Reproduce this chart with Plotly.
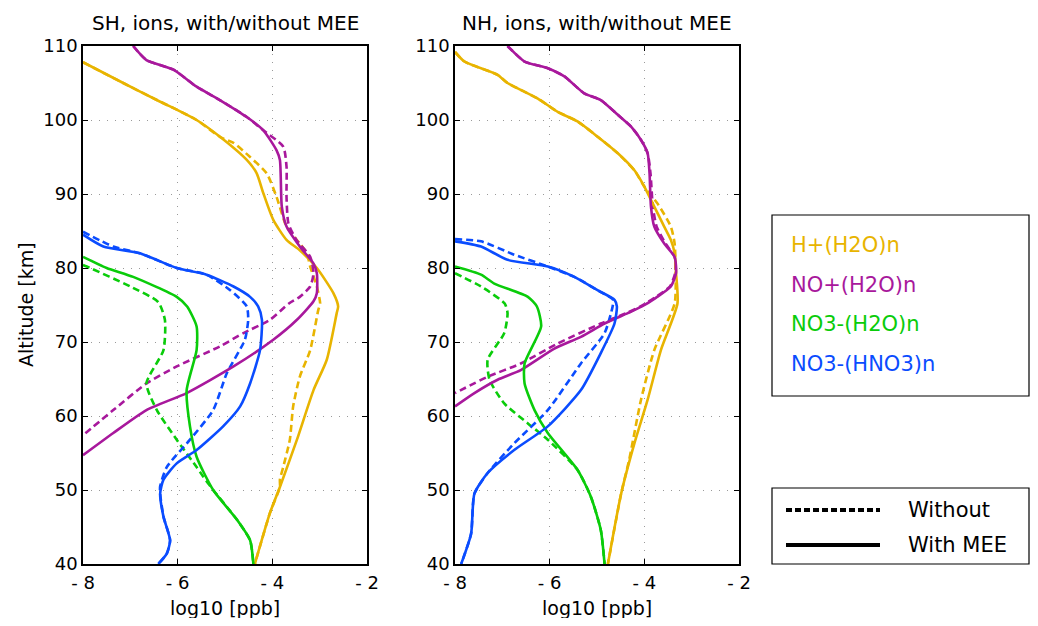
import plotly.graph_objects as go

# ---------------- data (log10 ppb vs altitude km) ----------------
# Southern Hemisphere
sh_hp_with_alt = [107.8, 105.0, 102.7, 101.4, 100.0, 97.7, 94.6, 92.8, 90.1, 86.5, 83.8, 82.4, 80.0, 76.6, 74.8, 73.9, 67.6, 63.5, 56.8, 50.4, 46.9, 40.0]
sh_hp_with_val = [-8.0, -7.15, -6.44, -6.02, -5.6, -5.1, -4.54, -4.33, -4.19, -3.98, -3.70, -3.42, -3.06, -2.71, -2.61, -2.64, -2.85, -3.13, -3.48, -3.84, -4.05, -4.37]
sh_hp_wo_alt = [107.8, 105.0, 102.7, 101.4, 100.0, 97.7, 96.9, 95.0, 92.8, 89.6, 85.6, 83.3, 82.0, 80.2, 77.5, 75.2, 74.3, 68.9, 65.3, 61.3, 56.8, 53.1, 51.4, 50.4, 46.9, 40.0]
sh_hp_wo_val = [-8.0, -7.15, -6.44, -6.02, -5.6, -5.1, -4.82, -4.47, -4.12, -3.91, -3.70, -3.42, -3.27, -3.20, -3.06, -2.99, -3.03, -3.20, -3.42, -3.56, -3.63, -3.77, -3.84, -3.84, -4.05, -4.37]

sh_nop_with_alt = [110.0, 108.1, 106.8, 104.5, 102.7, 100.4, 98.6, 95.9, 94.6, 88.3, 85.6, 82.9, 80.6, 79.3, 76.6, 75.5, 73.0, 70.3, 66.7, 63.1, 60.8, 57.7, 54.7]
sh_nop_with_val = [-6.94, -6.66, -6.09, -5.60, -5.11, -4.54, -4.19, -3.91, -3.84, -3.80, -3.70, -3.42, -3.13, -3.06, -3.06, -3.13, -3.48, -3.98, -4.82, -5.81, -6.66, -7.36, -8.0]
sh_nop_wo_alt = [110.0, 108.1, 106.8, 104.5, 102.7, 100.4, 98.6, 96.4, 93.7, 89.6, 86.0, 83.8, 81.5, 79.3, 77.5, 76.1, 75.2, 73.0, 71.2, 69.4, 66.7, 64.4, 60.8, 57.4]
sh_nop_wo_val = [-6.94, -6.66, -6.09, -5.60, -5.11, -4.54, -4.19, -3.77, -3.70, -3.70, -3.66, -3.49, -3.20, -3.13, -3.20, -3.42, -3.65, -4.05, -4.61, -5.11, -6.02, -6.66, -7.36, -8.0]

sh_no3w_with_alt = [81.5, 80.0, 78.8, 76.1, 74.8, 72.1, 68.9, 63.5, 58.6, 54.5, 50.0, 46.0, 43.2, 40.0]
sh_no3w_with_val = [-8.0, -7.5, -6.94, -6.02, -5.80, -5.60, -5.60, -5.81, -5.74, -5.60, -5.25, -4.75, -4.47, -4.40]
sh_no3w_wo_alt = [80.4, 80.2, 77.5, 75.4, 73.0, 68.9, 64.4, 60.8, 56.8, 53.1, 51.8, 50.0, 46.0, 43.2, 40.0]
sh_no3w_wo_val = [-8.0, -7.92, -7.0, -6.41, -6.27, -6.30, -6.66, -6.44, -6.02, -5.60, -5.46, -5.25, -4.75, -4.47, -4.40]

sh_no3h_with_alt = [84.5, 82.9, 82.0, 80.0, 79.1, 77.5, 76.1, 74.8, 73.0, 68.9, 64.4, 61.3, 58.6, 55.4, 53.6, 51.4, 49.5, 46.4, 43.2, 41.4, 40.0]
sh_no3h_with_val = [-8.0, -7.57, -6.80, -6.02, -5.39, -4.82, -4.47, -4.30, -4.22, -4.26, -4.47, -4.68, -5.04, -5.60, -6.02, -6.30, -6.37, -6.30, -6.16, -6.23, -6.41]
sh_no3h_wo_alt = [84.9, 82.9, 82.0, 80.0, 79.1, 77.0, 74.8, 73.0, 70.3, 65.8, 60.8, 56.8, 53.1, 50.5, 49.5, 46.4, 43.2, 41.4, 40.0]
sh_no3h_wo_val = [-8.0, -7.36, -6.80, -6.02, -5.39, -4.89, -4.54, -4.51, -4.58, -4.96, -5.25, -5.74, -6.23, -6.37, -6.37, -6.30, -6.16, -6.23, -6.41]

# Northern Hemisphere
nh_hp_with_alt = [109.2, 107.9, 106.1, 105.0, 102.9, 101.1, 99.8, 97.7, 95.5, 93.2, 91.0, 88.3, 85.6, 83.8, 82.0, 79.3, 75.2, 68.9, 62.2, 56.3, 49.5, 40.0]
nh_hp_with_val = [-8.0, -7.80, -7.10, -6.89, -6.25, -5.83, -5.41, -4.98, -4.56, -4.21, -4.0, -3.79, -3.58, -3.44, -3.36, -3.33, -3.30, -3.65, -3.93, -4.21, -4.49, -4.77]
nh_hp_wo_alt = [109.2, 107.9, 106.1, 105.0, 102.9, 101.1, 99.8, 97.7, 95.5, 93.2, 91.0, 88.7, 85.6, 83.3, 80.0, 75.2, 68.9, 62.2, 54.1, 49.5, 40.0]
nh_hp_wo_val = [-8.0, -7.80, -7.10, -6.89, -6.25, -5.83, -5.41, -4.98, -4.56, -4.21, -4.0, -3.72, -3.44, -3.36, -3.34, -3.36, -3.79, -4.07, -4.32, -4.49, -4.77]

nh_nop_with_alt = [110.0, 107.9, 107.0, 105.9, 103.6, 102.7, 100.7, 99.1, 97.3, 95.5, 92.8, 88.3, 85.6, 83.3, 81.5, 79.3, 77.5, 76.0, 74.8, 73.9, 72.5, 70.7, 69.1, 66.2, 64.9, 63.1, 61.3]
nh_nop_with_val = [-6.89, -6.53, -6.04, -5.69, -5.27, -4.92, -4.56, -4.28, -4.07, -3.93, -3.89, -3.86, -3.79, -3.58, -3.36, -3.33, -3.44, -3.75, -4.05, -4.35, -4.84, -5.34, -5.90, -6.61, -7.10, -7.59, -8.0]
nh_nop_wo_alt = [110.0, 107.9, 107.0, 105.9, 103.6, 102.7, 100.7, 99.1, 97.3, 95.5, 92.8, 88.3, 85.6, 83.3, 81.5, 79.3, 77.5, 76.0, 74.8, 73.9, 72.5, 69.8, 67.1, 65.3, 63.1]
nh_nop_wo_val = [-6.89, -6.53, -6.04, -5.69, -5.27, -4.92, -4.56, -4.28, -4.07, -3.93, -3.87, -3.82, -3.74, -3.55, -3.36, -3.35, -3.46, -3.78, -4.08, -4.38, -4.92, -5.83, -6.61, -7.31, -8.0]

nh_no3w_with_alt = [80.2, 79.1, 77.9, 76.1, 74.8, 72.1, 67.1, 64.4, 60.8, 57.7, 52.7, 49.1, 44.6, 40.0]
nh_no3w_with_val = [-8.0, -7.45, -7.17, -6.46, -6.27, -6.18, -6.53, -6.53, -6.32, -6.04, -5.41, -5.13, -4.92, -4.84]
nh_no3w_wo_alt = [79.3, 77.5, 75.2, 73.9, 71.2, 67.6, 64.9, 61.7, 59.0, 56.8, 52.7, 49.1, 44.6, 40.0]
nh_no3w_wo_val = [-8.0, -7.45, -6.95, -6.89, -6.96, -7.31, -7.27, -6.96, -6.46, -6.04, -5.41, -5.13, -4.92, -4.84]

nh_no3h_with_alt = [83.6, 82.9, 81.1, 80.2, 78.8, 77.0, 75.7, 74.8, 72.5, 68.5, 63.5, 58.6, 55.4, 52.3, 49.5, 44.1, 40.0]
nh_no3h_with_val = [-8.0, -7.45, -6.89, -6.04, -5.48, -4.99, -4.63, -4.58, -4.63, -4.92, -5.34, -6.04, -6.75, -7.31, -7.59, -7.66, -7.87]
nh_no3h_wo_alt = [83.9, 83.6, 81.8, 80.2, 78.8, 77.0, 75.7, 74.8, 71.2, 67.1, 60.8, 56.3, 52.3, 49.5, 44.1, 40.0]
nh_no3h_wo_val = [-8.0, -7.45, -6.75, -6.04, -5.48, -4.99, -4.66, -4.67, -4.84, -5.34, -6.04, -6.75, -7.31, -7.59, -7.66, -7.87]

species = ["H+(H2O)n", "NO+(H2O)n", "NO3-(H2O)n", "NO3-(HNO3)n"]
colors = ["#E8B400", "#A8189C", "#0ACC0A", "#0A4CFF"]
x_ticks = [-8, -6, -4, -2]
x_tick_text = ["- 8", "- 6", "- 4", "- 2"]
y_ticks = [40, 50, 60, 70, 80, 90, 100, 110]
panel_titles = ["SH, ions, with/without MEE", "NH, ions, with/without MEE"]
x_title = "log10 [ppb]"
y_title = "Altitude [km]"
style_labels = ["Without", "With MEE"]

sh = [
    (sh_hp_wo_val, sh_hp_wo_alt, sh_hp_with_val, sh_hp_with_alt),
    (sh_nop_wo_val, sh_nop_wo_alt, sh_nop_with_val, sh_nop_with_alt),
    (sh_no3w_wo_val, sh_no3w_wo_alt, sh_no3w_with_val, sh_no3w_with_alt),
    (sh_no3h_wo_val, sh_no3h_wo_alt, sh_no3h_with_val, sh_no3h_with_alt),
]
nh = [
    (nh_hp_wo_val, nh_hp_wo_alt, nh_hp_with_val, nh_hp_with_alt),
    (nh_nop_wo_val, nh_nop_wo_alt, nh_nop_with_val, nh_nop_with_alt),
    (nh_no3w_wo_val, nh_no3w_wo_alt, nh_no3w_with_val, nh_no3w_with_alt),
    (nh_no3h_wo_val, nh_no3h_wo_alt, nh_no3h_with_val, nh_no3h_with_alt),
]

# page body has an 8px default margin; keep figure inside the window (no scrollbars)
OFF = 8
W, H = 1038 - 2 * OFF, 626 - 2 * OFF
FONT = "DejaVu Sans"
LW = 2.6
DASH = "7px,4px"

fig = go.Figure()

for panel, (xa, ya) in zip([sh, nh], [("x", "y"), ("x2", "y2")]):
    for (wo_v, wo_a, wi_v, wi_a), c, name in zip(panel, colors, species):
        fig.add_trace(go.Scatter(x=wo_v, y=wo_a, mode="lines", xaxis=xa, yaxis=ya,
                                 line=dict(color=c, width=LW, dash=DASH, shape="spline", smoothing=0.6),
                                 name=name + " without", showlegend=False, hoverinfo="skip"))
    for (wo_v, wo_a, wi_v, wi_a), c, name in zip(panel, colors, species):
        fig.add_trace(go.Scatter(x=wi_v, y=wi_a, mode="lines", xaxis=xa, yaxis=ya,
                                 line=dict(color=c, width=LW, shape="spline", smoothing=0.6),
                                 name=name + " with MEE", showlegend=False, hoverinfo="skip"))

def px_x(p):
    return (p - OFF) / W

def px_y(p):
    return 1 - (p - OFF) / H

y_dom = [px_y(564), px_y(46)]
xdoms = [[px_x(83), px_x(367)], [px_x(455), px_x(739)]]

axis_common = dict(
    showline=True, linecolor="black", linewidth=1.5, mirror="ticks",
    ticks="inside", ticklen=5, tickwidth=1.2, tickcolor="black",
    showgrid=True, gridcolor="#9a9a9a", gridwidth=1, griddash="1px,7px",
    zeroline=False, tickfont=dict(family=FONT, size=18, color="black"),
    automargin=False,
)

layout = dict(
    width=W, height=H,
    paper_bgcolor="white", plot_bgcolor="white",
    margin=dict(l=0, r=0, t=0, b=0),
    showlegend=False,
    font=dict(family=FONT, color="black"),
)
for i, suffix in enumerate(["", "2"]):
    layout["xaxis" + suffix] = dict(axis_common, domain=xdoms[i], range=[-8, -2],
                                    tickvals=x_ticks, ticktext=x_tick_text,
                                    anchor="y" + suffix, ticklabelstandoff=2)
    layout["yaxis" + suffix] = dict(axis_common, domain=y_dom, range=[40, 110],
                                    tickvals=y_ticks, anchor="x" + suffix)
fig.update_layout(**layout)

ann = []
for i, t in enumerate(panel_titles):
    cx = (xdoms[i][0] + xdoms[i][1]) / 2
    ann.append(dict(text=t, x=cx, y=px_y(23), xref="paper", yref="paper",
                    showarrow=False, xanchor="center", yanchor="middle",
                    font=dict(family=FONT, size=20, color="black")))
    ann.append(dict(text=x_title, x=cx, y=px_y(608), xref="paper", yref="paper",
                    showarrow=False, xanchor="center", yanchor="middle",
                    font=dict(family=FONT, size=19, color="black")))
ann.append(dict(text=y_title, x=px_x(26), y=px_y(305), xref="paper", yref="paper",
                showarrow=False, textangle=-90, xanchor="center", yanchor="middle",
                font=dict(family=FONT, size=19, color="black")))

BOX_R = 1029
shapes = []
shapes.append(dict(type="rect", xref="paper", yref="paper",
                   x0=px_x(772), x1=px_x(BOX_R), y0=px_y(396), y1=px_y(215),
                   line=dict(color="black", width=1.2), fillcolor="white", layer="above"))
for k, (name, c) in enumerate(zip(species, colors)):
    ann.append(dict(text=name, x=px_x(789), y=px_y(245 + 39.5 * k), xref="paper", yref="paper",
                    showarrow=False, xanchor="left", yanchor="middle",
                    font=dict(family=FONT, size=21, color=c)))

shapes.append(dict(type="rect", xref="paper", yref="paper",
                   x0=px_x(772), x1=px_x(BOX_R), y0=px_y(564), y1=px_y(488),
                   line=dict(color="black", width=1.2), fillcolor="white", layer="above"))
for k, (lab, dash) in enumerate(zip(style_labels, ["6px,3px", "solid"])):
    yy = px_y(510 + 35 * k)
    shapes.append(dict(type="line", xref="paper", yref="paper",
                       x0=px_x(786), x1=px_x(880), y0=yy, y1=yy,
                       line=dict(color="black", width=4, dash=dash), layer="above"))
    ann.append(dict(text=lab, x=px_x(906), y=yy, xref="paper", yref="paper",
                    showarrow=False, xanchor="left", yanchor="middle",
                    font=dict(family=FONT, size=21, color="black")))

fig.update_layout(annotations=ann, shapes=shapes)
fig.write_html("out.html")
